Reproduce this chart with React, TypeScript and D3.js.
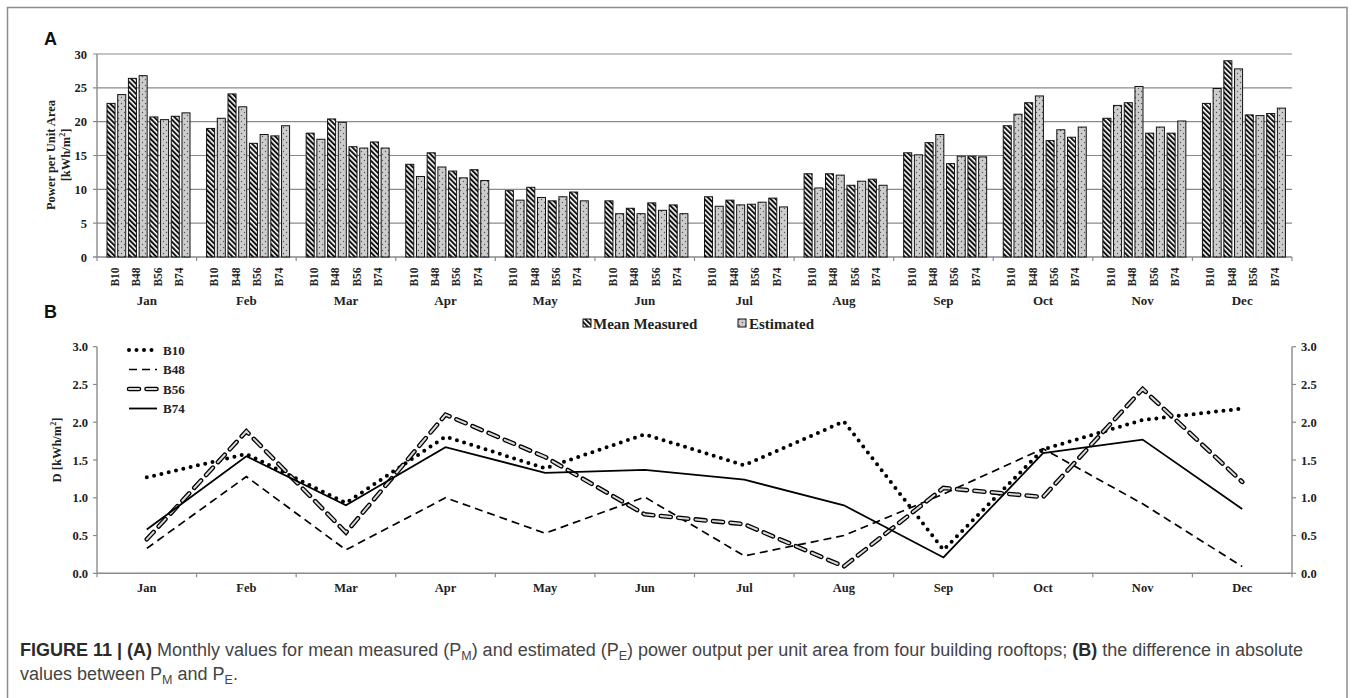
import React from "react";
import * as d3 from "d3";

// Monthly power per unit area [kWh/m²]
const months = ["Jan", "Feb", "Mar", "Apr", "May", "Jun", "Jul", "Aug", "Sep", "Oct", "Nov", "Dec"];
const buildings = ["B10", "B48", "B56", "B74"];

const measuredB10 = [22.7, 19.0, 18.3, 13.7, 9.8, 8.3, 8.9, 12.3, 15.4, 19.4, 20.5, 22.7];
const estimatedB10 = [24.0, 20.5, 17.4, 11.9, 8.4, 6.4, 7.5, 10.2, 15.1, 21.1, 22.4, 24.9];
const measuredB48 = [26.4, 24.1, 20.4, 15.4, 10.3, 7.2, 8.4, 12.3, 16.9, 22.8, 22.8, 29.0];
const estimatedB48 = [26.8, 22.2, 19.9, 13.3, 8.8, 6.4, 7.7, 12.1, 18.1, 23.8, 25.2, 27.8];
const measuredB56 = [20.7, 16.8, 16.3, 12.7, 8.3, 8.0, 7.8, 10.6, 13.8, 17.2, 18.3, 21.0];
const estimatedB56 = [20.3, 18.1, 16.1, 11.7, 8.9, 6.9, 8.1, 11.2, 14.9, 18.8, 19.2, 20.9];
const measuredB74 = [20.8, 17.9, 17.0, 12.9, 9.6, 7.7, 8.7, 11.5, 14.9, 17.7, 18.3, 21.2];
const estimatedB74 = [21.3, 19.4, 16.1, 11.3, 8.3, 6.4, 7.4, 10.6, 14.8, 19.2, 20.1, 22.0];

// Absolute difference D [kWh/m²]
const diffB10 = [1.27, 1.58, 0.93, 1.81, 1.39, 1.84, 1.43, 2.01, 0.31, 1.64, 2.03, 2.18];
const diffB48 = [0.33, 1.28, 0.31, 1.0, 0.53, 1.01, 0.23, 0.5, 1.05, 1.65, 0.92, 0.09];
const diffB56 = [0.45, 1.88, 0.54, 2.1, 1.54, 0.78, 0.65, 0.09, 1.13, 1.01, 2.44, 1.21];
const diffB74 = [0.58, 1.55, 0.9, 1.67, 1.33, 1.37, 1.24, 0.9, 0.21, 1.59, 1.77, 0.85];

const powerTicks = [0, 5, 10, 15, 20, 25, 30];
const diffTicks = [0, 0.5, 1.0, 1.5, 2.0, 2.5, 3.0];

const measured = [measuredB10, measuredB48, measuredB56, measuredB74];
const estimated = [estimatedB10, estimatedB48, estimatedB56, estimatedB74];
const diffs = [diffB10, diffB48, diffB56, diffB74];

const SERIF = "'Liberation Serif', 'Times New Roman', serif";
const SANS = "'Liberation Sans', Arial, Helvetica, sans-serif";
const AXIS = "#8a8a8a";

type LineStyle = "dot" | "dash" | "hollow" | "solid";
const lineStyles: LineStyle[] = ["dot", "dash", "hollow", "solid"];

function StyledPath({ d, style }: { d: string; style: LineStyle }) {
  if (style === "dot")
    return <path d={d} fill="none" stroke="#000" strokeWidth={4} strokeLinecap="round" strokeDasharray="0 7.5" />;
  if (style === "dash")
    return <path d={d} fill="none" stroke="#000" strokeWidth={1.7} strokeDasharray="8 5" />;
  if (style === "hollow")
    return (
      <g>
        <path d={d} fill="none" stroke="#000" strokeWidth={4.6} strokeLinecap="round" strokeDasharray="10 7.5" />
        <path d={d} fill="none" stroke="#d9d9d9" strokeWidth={2} strokeLinecap="round" strokeDasharray="10 7.5" />
      </g>
    );
  return <path d={d} fill="none" stroke="#000" strokeWidth={1.8} />;
}

export default function App() {
  const W = 1357;
  const H = 698;
  const left = 97;
  const right = 1292;

  const x = d3.scaleBand<string>().domain(months).range([left, right]);
  const slots = buildings.flatMap((b) => [b + "-M", b + "-E"]);
  const inner = d3.scaleBand<string>().domain(slots).range([10, 93]).paddingInner(0.25);

  const yA = d3.scaleLinear().domain([0, 30]).range([257, 54]);
  const yB = d3.scaleLinear().domain([0, 3]).range([573.3, 346.7]);

  const line = d3
    .line<number>()
    .x((_, i) => (x(months[i]) as number) + x.bandwidth() / 2)
    .y((d) => yB(d));

  const boundaries = d3.range(months.length + 1).map((i) => left + i * x.bandwidth());

  return (
    <svg
      width={W}
      height={H}
      viewBox={`0 0 ${W} ${H}`}
      style={{ position: "absolute", left: 0, top: 0, background: "#fff" }}
    >
      <defs>
        <pattern id="hatch" width="3.6" height="3.6" patternUnits="userSpaceOnUse" patternTransform="rotate(-45)">
          <rect width="3.6" height="3.6" fill="#fff" />
          <rect width="2" height="3.6" fill="#111" />
        </pattern>
        <pattern id="dots" width="6" height="6" patternUnits="userSpaceOnUse">
          <rect width="6" height="6" fill="#cdcdcd" />
          <circle cx="1.5" cy="1.5" r="0.7" fill="#555" />
          <circle cx="4.5" cy="4.5" r="0.7" fill="#555" />
        </pattern>
      </defs>

      <rect x={0} y={0} width={W} height={H} fill="#fff" />
      <rect x={7.5} y={7.5} width={1339.5} height={740} fill="none" stroke="#8c8c8c" strokeWidth={1.5} />

      {/* Panel A: monthly bars */}
      <text x={44} y={45} fontFamily={SANS} fontWeight="bold" fontSize={18} fill="#111">
        A
      </text>
      {powerTicks.map((t) => (
        <g key={"ga" + t}>
          <line x1={left - 4} x2={right} y1={yA(t)} y2={yA(t)} stroke={AXIS} strokeWidth={t === 0 ? 1.6 : 1.2} />
          <text
            x={left - 10}
            y={yA(t) + 4.5}
            textAnchor="end"
            fontFamily={SERIF}
            fontWeight="bold"
            fontSize={12.5}
            fill="#222"
          >
            {t}
          </text>
        </g>
      ))}
      <line x1={left} x2={left} y1={yA(30)} y2={yA(0)} stroke={AXIS} strokeWidth={1.4} />
      {boundaries.map((bx, i) => (
        <line key={"sa" + i} x1={bx} x2={bx} y1={yA(0)} y2={yA(0) + 4} stroke={AXIS} strokeWidth={1.2} />
      ))}
      <text
        transform={`translate(55,155) rotate(-90)`}
        textAnchor="middle"
        fontFamily={SERIF}
        fontWeight="bold"
        fontSize={12.5}
        fill="#222"
      >
        Power per Unit Area
      </text>
      <text
        transform={`translate(70,155) rotate(-90)`}
        textAnchor="middle"
        fontFamily={SERIF}
        fontWeight="bold"
        fontSize={12.5}
        fill="#222"
      >
        [kWh/m
        <tspan fontSize={8} dy={-5}>
          2
        </tspan>
        <tspan dy={5}>]</tspan>
      </text>

      {months.map((m, mi) => {
        const x0 = x(m) as number;
        return (
          <g key={m}>
            {buildings.map((b, bi) => {
              const xm = x0 + (inner(b + "-M") as number);
              const xe = x0 + (inner(b + "-E") as number);
              const vm = measured[bi][mi];
              const ve = estimated[bi][mi];
              const cx = (xm + xe + inner.bandwidth()) / 2 - 1.5;
              return (
                <g key={b}>
                  <rect
                    x={xm}
                    y={yA(vm)}
                    width={inner.bandwidth()}
                    height={yA(0) - yA(vm)}
                    fill="url(#hatch)"
                    stroke="#111"
                    strokeWidth={1}
                  />
                  <rect
                    x={xe}
                    y={yA(ve)}
                    width={inner.bandwidth()}
                    height={yA(0) - yA(ve)}
                    fill="url(#dots)"
                    stroke="#111"
                    strokeWidth={1}
                  />
                  <text
                    transform={`translate(${cx},277) rotate(-90)`}
                    textAnchor="middle"
                    dominantBaseline="central"
                    fontFamily={SERIF}
                    fontWeight="bold"
                    fontSize={11.5}
                    fill="#222"
                  >
                    {b}
                  </text>
                </g>
              );
            })}
            <text
              x={x0 + x.bandwidth() / 2}
              y={304.5}
              textAnchor="middle"
              fontFamily={SERIF}
              fontWeight="bold"
              fontSize={13}
              fill="#222"
            >
              {m}
            </text>
          </g>
        );
      })}

      {/* Legend for panel A */}
      <g fontFamily={SERIF} fontWeight="bold" fontSize={15} fill="#222">
        <rect x={583} y={319} width={8} height={8} fill="url(#hatch)" stroke="#111" strokeWidth={1} />
        <text x={593} y={328.5}>
          Mean Measured
        </text>
        <rect x={738} y={319} width={8} height={8} fill="url(#dots)" stroke="#111" strokeWidth={1} />
        <text x={749} y={328.5}>
          Estimated
        </text>
      </g>

      {/* Panel B: absolute differences */}
      <text x={44} y={318} fontFamily={SANS} fontWeight="bold" fontSize={18} fill="#111">
        B
      </text>
      <line x1={left} x2={left} y1={yB(3)} y2={yB(0)} stroke={AXIS} strokeWidth={1.4} />
      <line x1={right} x2={right} y1={yB(3)} y2={yB(0)} stroke={AXIS} strokeWidth={1.4} />
      <line x1={left} x2={right} y1={yB(0)} y2={yB(0)} stroke={AXIS} strokeWidth={1.6} />
      {diffTicks.map((t) => (
        <g key={"gb" + t}>
          <line x1={left - 4} x2={left} y1={yB(t)} y2={yB(t)} stroke={AXIS} strokeWidth={1.2} />
          <line x1={right} x2={right + 4} y1={yB(t)} y2={yB(t)} stroke={AXIS} strokeWidth={1.2} />
          <text x={left - 9} y={yB(t) + 4.5} textAnchor="end" fontFamily={SERIF} fontWeight="bold" fontSize={12.5} fill="#222">
            {t.toFixed(1)}
          </text>
          <text x={right + 9} y={yB(t) + 4.5} fontFamily={SERIF} fontWeight="bold" fontSize={12.5} fill="#222">
            {t.toFixed(1)}
          </text>
        </g>
      ))}
      {boundaries.map((bx, i) => (
        <line key={"sb" + i} x1={bx} x2={bx} y1={yB(0)} y2={yB(0) + 4} stroke={AXIS} strokeWidth={1.2} />
      ))}
      {months.map((m) => (
        <text
          key={"lb" + m}
          x={(x(m) as number) + x.bandwidth() / 2}
          y={591.5}
          textAnchor="middle"
          fontFamily={SERIF}
          fontWeight="bold"
          fontSize={12.5}
          fill="#222"
        >
          {m}
        </text>
      ))}
      <text
        transform={`translate(61,450) rotate(-90)`}
        textAnchor="middle"
        fontFamily={SERIF}
        fontWeight="bold"
        fontSize={12.5}
        fill="#222"
      >
        D [kWh/m
        <tspan fontSize={8} dy={-5}>
          2
        </tspan>
        <tspan dy={5}>]</tspan>
      </text>

      {diffs.map((series, i) => (
        <StyledPath key={"l" + i} d={line(series) as string} style={lineStyles[i]} />
      ))}

      {/* Legend for panel B */}
      {buildings.map((b, i) => {
        const ly = 350 + i * 19.5;
        return (
          <g key={"lg" + b}>
            <StyledPath d={`M129,${ly}L157,${ly}`} style={lineStyles[i]} />
            <text x={163} y={ly + 4.5} fontFamily={SERIF} fontWeight="bold" fontSize={13} fill="#222">
              {b}
            </text>
          </g>
        );
      })}

      {/* Caption */}
      <g fontFamily={SANS} fontSize={18} fill="#444">
        <text x={20} y={656}>
          <tspan fontWeight="bold" fill="#2a2a2a">
            FIGURE 11 | (A)
          </tspan>
          <tspan> Monthly values for mean measured (P</tspan>
          <tspan fontSize={12.5} dy={4}>
            M
          </tspan>
          <tspan dy={-4}>) and estimated (P</tspan>
          <tspan fontSize={12.5} dy={4}>
            E
          </tspan>
          <tspan dy={-4}>) power output per unit area from four building rooftops; </tspan>
          <tspan fontWeight="bold" fill="#2a2a2a">
            (B)
          </tspan>
          <tspan> the difference in absolute</tspan>
        </text>
        <text x={20} y={680}>
          <tspan>values between P</tspan>
          <tspan fontSize={12.5} dy={4}>
            M
          </tspan>
          <tspan dy={-4}> and P</tspan>
          <tspan fontSize={12.5} dy={4}>
            E
          </tspan>
          <tspan dy={-4}>.</tspan>
        </text>
      </g>
    </svg>
  );
}
